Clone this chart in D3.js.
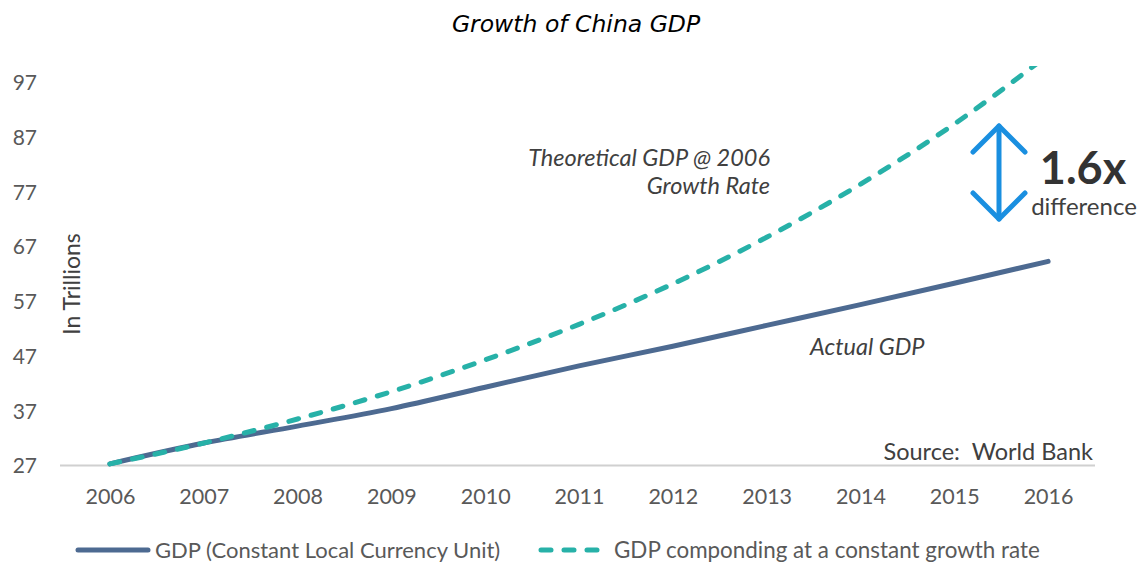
<!DOCTYPE html>
<html>
<head>
<meta charset="utf-8">
<script src="https://cdn.jsdelivr.net/npm/d3@7"></script>
<style>
  html, body { margin: 0; padding: 0; background: #fff; }
  svg { display: block; }
</style>
</head>
<body>
<svg id="chart" width="1145" height="563"></svg>
<script>
// Years on the category axis
const years = ["2006","2007","2008","2009","2010","2011","2012","2013","2014","2015","2016"];
// Real GDP, constant local currency unit (trillions)
const actualGDP = [27.3, 31.1, 34.2, 37.4, 41.3, 45.2, 48.8, 52.6, 56.4, 60.3, 64.3];
// GDP compounding at the 2006 growth rate (trillions)
const theoreticalGDP = [27.3, 31.1, 35.5, 40.5, 46.3, 52.8, 60.2, 68.7, 78.4, 89.4, 102.0];
// Value axis ticks
const yTicks = [27, 37, 47, 57, 67, 77, 87, 97];

const svg = d3.select("#chart");
const W = 1145, H = 563;
const plot = { left: 63, right: 1095, top: 66, bottom: 465.5 };

const x = d3.scalePoint().domain(years).range([plot.left, plot.right]).padding(0.5);
const y = d3.scaleLinear().domain([27, 100]).range([plot.bottom, plot.top]);

const sans = "Lato, 'Open Sans', sans-serif";

// Title
svg.append("text")
  .attr("x", 576).attr("y", 32)
  .attr("text-anchor", "middle")
  .style("font-family", "'DejaVu Sans', sans-serif")
  .style("font-style", "italic")
  .style("font-size", "23.5px")
  .attr("fill", "#000")
  .text("Growth of China GDP");

// Y axis (labels only)
const yAxis = d3.axisLeft(y).tickValues(yTicks).tickSize(0).tickPadding(0);
const gy = svg.append("g").attr("transform", "translate(37,0)").call(yAxis);
gy.select(".domain").remove();
gy.selectAll("text")
  .style("font-family", sans).style("font-size", "21px")
  .attr("fill", "#595959").attr("dy", "0.35em");

// X axis baseline and labels
const xAxis = d3.axisBottom(x).tickSize(0).tickPadding(0);
const gx = svg.append("g").attr("transform", `translate(0,${plot.bottom})`).call(xAxis);
gx.select(".domain").attr("stroke", "#d0d0d0").attr("stroke-width", 2)
  .attr("d", `M${plot.left - 3},0H${plot.right}`);
gx.selectAll("text")
  .style("font-family", sans).style("font-size", "21.5px")
  .attr("fill", "#595959").attr("y", 23).attr("dy", "0.71em");

// Y axis title
svg.append("text")
  .attr("transform", "translate(80,284) rotate(-90)")
  .attr("text-anchor", "middle")
  .style("font-family", sans).style("font-size", "23px")
  .attr("fill", "#404040")
  .text("In Trillions");

// Clip lines to the plot area
svg.append("clipPath").attr("id", "plotclip")
  .append("rect").attr("x", 0).attr("y", plot.top)
  .attr("width", W).attr("height", H - plot.top);

const line = d3.line()
  .x((d, i) => x(years[i]))
  .y(d => y(d))
  .curve(d3.curveMonotoneX);

const actualColor = "#4d6a91";
const theoColor = "#27b1a8";

svg.append("path")
  .datum(actualGDP)
  .attr("clip-path", "url(#plotclip)")
  .attr("d", line)
  .attr("fill", "none")
  .attr("stroke", actualColor)
  .attr("stroke-width", 5)
  .attr("stroke-linecap", "round");

svg.append("path")
  .datum(theoreticalGDP)
  .attr("clip-path", "url(#plotclip)")
  .attr("d", line)
  .attr("fill", "none")
  .attr("stroke", theoColor)
  .attr("stroke-width", 5)
  .attr("stroke-dasharray", "10,13")
  .attr("stroke-linecap", "round");

// Annotations
const note = (t, xx, yy, anchor) => svg.append("text")
  .attr("x", xx).attr("y", yy).attr("text-anchor", anchor)
  .style("font-family", sans).style("font-style", "italic").style("font-size", "23.5px")
  .attr("fill", "#404040").text(t);
note("Theoretical GDP @ 2006", 770, 166, "end");
note("Growth Rate", 770, 194, "end");
note("Actual GDP", 810, 355, "start");

svg.append("text")
  .attr("x", 1093).attr("y", 460).attr("text-anchor", "end")
  .style("white-space", "pre")
  .style("font-family", sans).style("font-size", "23.5px")
  .attr("fill", "#404040").text("Source:  World Bank");

// Double-headed arrow marking the gap
const arrow = svg.append("g")
  .attr("fill", "none").attr("stroke", "#1a8fe0")
  .attr("stroke-width", 5).attr("stroke-linecap", "round").attr("stroke-linejoin", "round");
const ax = 999, aTop = 126, aBot = 219;
arrow.append("path").attr("d", `M${ax},${aTop}V${aBot}`);
arrow.append("path").attr("d", `M${ax - 26},${aTop + 26}L${ax},${aTop}L${ax + 26},${aTop + 26}`);
arrow.append("path").attr("d", `M${ax - 26},${aBot - 26}L${ax},${aBot}L${ax + 26},${aBot - 26}`);

svg.append("text")
  .attr("x", 1083).attr("y", 184).attr("text-anchor", "middle")
  .style("font-family", sans).style("font-weight", "bold").style("font-size", "45px")
  .attr("fill", "#333").text("1.6x");
svg.append("text")
  .attr("x", 1084).attr("y", 215).attr("text-anchor", "middle")
  .style("font-family", sans).style("font-size", "24px")
  .attr("fill", "#404040").text("difference");

// Legend
const leg = svg.append("g");
leg.append("line").attr("x1", 78).attr("x2", 148).attr("y1", 550).attr("y2", 550)
  .attr("stroke", actualColor).attr("stroke-width", 5).attr("stroke-linecap", "round");
leg.append("text").attr("x", 155).attr("y", 550).attr("dy", "0.35em")
  .style("font-family", sans).style("font-size", "22px").attr("fill", "#595959")
  .text("GDP (Constant Local Currency Unit)");
leg.append("line").attr("x1", 541).attr("x2", 607).attr("y1", 550).attr("y2", 550)
  .attr("stroke", theoColor).attr("stroke-width", 5).attr("stroke-linecap", "round")
  .attr("stroke-dasharray", "10,13");
leg.append("text").attr("x", 614).attr("y", 550).attr("dy", "0.35em")
  .style("font-family", sans).style("font-size", "22.4px").attr("fill", "#595959")
  .text("GDP componding at a constant growth rate");
</script>
</body>
</html>
